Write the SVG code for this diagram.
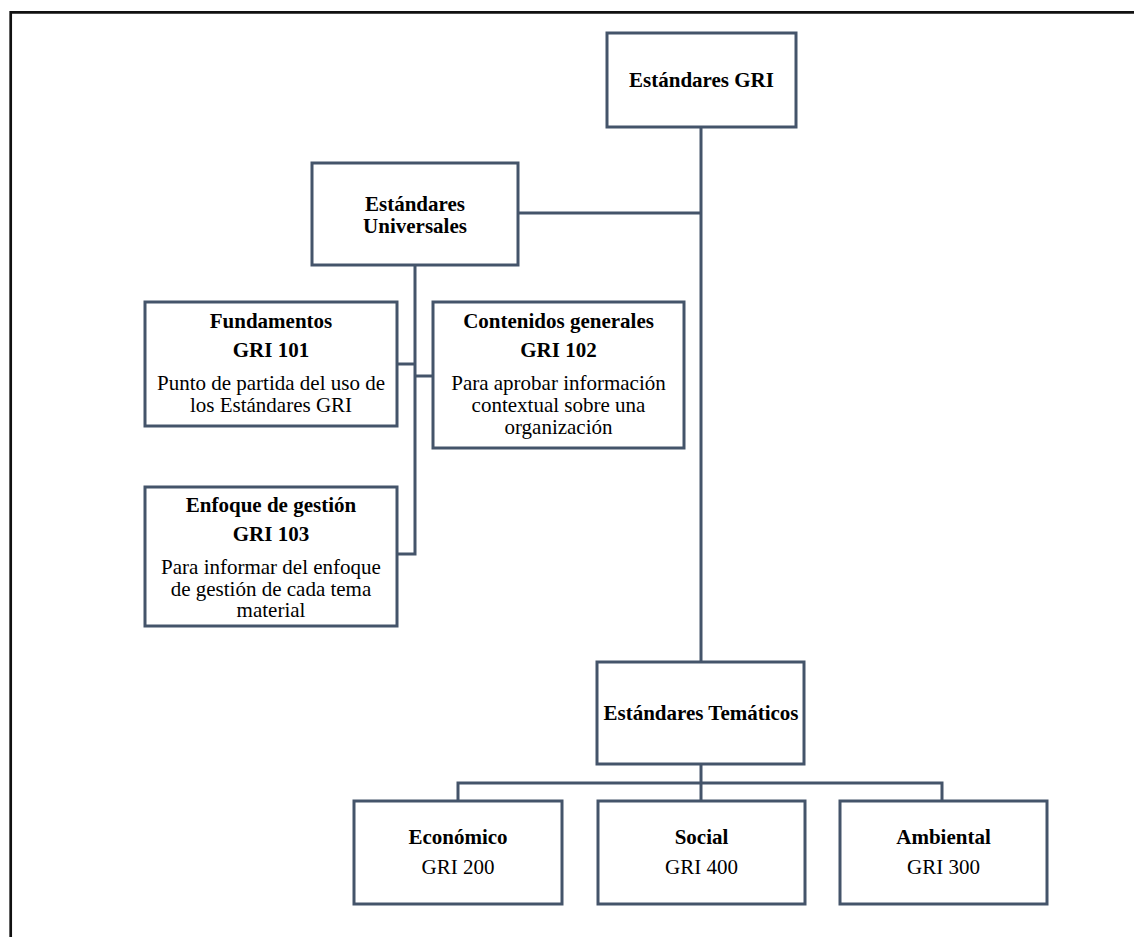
<svg xmlns="http://www.w3.org/2000/svg" width="1134" height="937" viewBox="0 0 1134 937">
<style>
.box{fill:#fff;stroke:#44546A;stroke-width:3}
.ln{fill:none;stroke:#44546A;stroke-width:3}
text{font-family:"Liberation Serif","Times New Roman",serif;font-size:21px;fill:#000;text-anchor:middle}
.b{font-weight:bold}
</style>
<rect x="0" y="0" width="1134" height="937" fill="#fff"/>
<path d="M10.7,937 V12.3 H1134" fill="none" stroke="#111" stroke-width="2.7"/>
<g id="connectors">
<path class="ln" d="M701,127 V662"/>
<path class="ln" d="M518,213 H701"/>
<path class="ln" d="M415,265 V554 H397"/>
<path class="ln" d="M397,364 H415"/>
<path class="ln" d="M415,376 H433"/>
<path class="ln" d="M701,764 V783"/>
<path class="ln" d="M458,801 V783 H942 V801"/>
<path class="ln" d="M701,783 V801"/>
</g>
<g id="gri">
<rect class="box" x="607" y="33" width="189" height="94"/>
<text class="b" x="701.5" y="87">Estándares GRI</text>
</g>
<g id="universales">
<rect class="box" x="312" y="163" width="206" height="102"/>
<text class="b" x="415" y="211">Estándares</text>
<text class="b" x="415" y="233">Universales</text>
</g>
<g id="fundamentos">
<rect class="box" x="145" y="302" width="252" height="124"/>
<text class="b" x="271" y="328">Fundamentos</text>
<text class="b" x="271" y="357">GRI 101</text>
<text x="271" y="390">Punto de partida del uso de</text>
<text x="271" y="412">los Estándares GRI</text>
</g>
<g id="contenidos">
<rect class="box" x="433" y="302" width="251" height="146"/>
<text class="b" x="558.5" y="328">Contenidos generales</text>
<text class="b" x="558.5" y="357">GRI 102</text>
<text x="558.5" y="390">Para aprobar información</text>
<text x="558.5" y="412">contextual sobre una</text>
<text x="558.5" y="434">organización</text>
</g>
<g id="enfoque">
<rect class="box" x="145" y="487" width="252" height="139"/>
<text class="b" x="271" y="512">Enfoque de gestión</text>
<text class="b" x="271" y="541">GRI 103</text>
<text x="271" y="574">Para informar del enfoque</text>
<text x="271" y="596">de gestión de cada tema</text>
<text x="271" y="617">material</text>
</g>
<g id="tematicos">
<rect class="box" x="597" y="662" width="207" height="102"/>
<text class="b" x="701" y="720">Estándares Temáticos</text>
</g>
<g id="economico">
<rect class="box" x="354" y="801" width="208" height="103"/>
<text class="b" x="458" y="844">Económico</text>
<text x="458" y="874">GRI 200</text>
</g>
<g id="social">
<rect class="box" x="598" y="801" width="207" height="103"/>
<text class="b" x="701.5" y="844">Social</text>
<text x="701.5" y="874">GRI 400</text>
</g>
<g id="ambiental">
<rect class="box" x="840" y="801" width="207" height="103"/>
<text class="b" x="943.5" y="844">Ambiental</text>
<text x="943.5" y="874">GRI 300</text>
</g>
</svg>
